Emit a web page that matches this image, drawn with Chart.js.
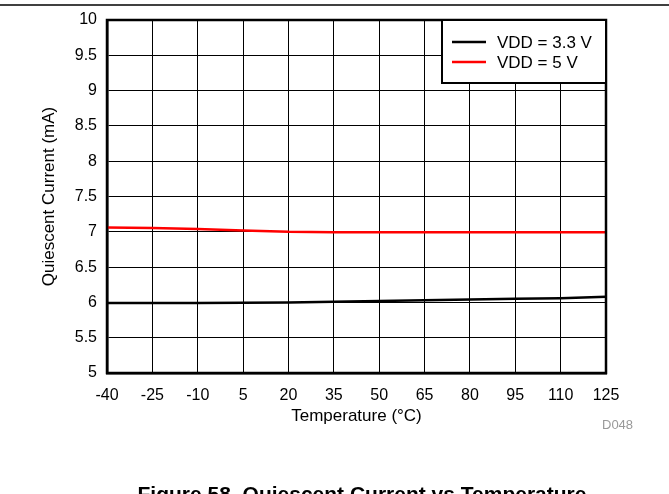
<!DOCTYPE html>
<html>
<head>
<meta charset="utf-8">
<script src="https://cdn.jsdelivr.net/npm/chart.js@4/dist/chart.umd.min.js"></script>
<style>
  html, body { margin: 0; padding: 0; background: #fff; }
  #wrap { width: 669px; height: 494px; }
</style>
</head>
<body>
<div id="wrap"><canvas id="chart" width="669" height="494"></canvas></div>
<script>
const temps = [-40, -25, -10, 5, 20, 35, 50, 65, 80, 95, 110, 125];
const vdd33 = [5.99, 5.99, 5.99, 5.995, 6.0, 6.01, 6.02, 6.03, 6.04, 6.05, 6.06, 6.08];
const vdd5 = [7.06, 7.055, 7.04, 7.02, 7.0, 6.995, 6.993, 6.992, 6.992, 6.992, 6.992, 6.992];
const seriesLabels = ['VDD = 3.3 V', 'VDD = 5 V'];
const seriesColors = ['#000000', '#ff0000'];
const xTicks = [-40, -25, -10, 5, 20, 35, 50, 65, 80, 95, 110, 125];
const yTicks = [5, 5.5, 6, 6.5, 7, 7.5, 8, 8.5, 9, 9.5, 10];

const font = 'Liberation Sans, Arial, sans-serif';

function toPoints(ys) {
  return temps.map((t, i) => ({x: t, y: ys[i]}));
}

// frame, legend box, figure caption, doc id
const extras = {
  id: 'extras',
  afterDraw(chart) {
    const ctx = chart.ctx;
    const a = chart.chartArea;
    ctx.save();
    // rule at the top of the page
    ctx.strokeStyle = '#000';
    ctx.lineWidth = 1.5;
    ctx.beginPath();
    ctx.moveTo(0, 5);
    ctx.lineTo(669, 5);
    ctx.stroke();

    // plot frame
    ctx.lineWidth = 2.5;
    ctx.strokeRect(a.left, a.top, a.right - a.left, a.bottom - a.top);

    // legend
    const lx = 442, ly = a.top, lw = a.right - 442, lh = 63;
    ctx.fillStyle = '#fff';
    ctx.fillRect(lx, ly, lw, lh);
    ctx.lineWidth = 2;
    ctx.strokeRect(lx, ly, lw, lh);
    ctx.font = '17px ' + font;
    ctx.textBaseline = 'middle';
    ctx.textAlign = 'left';
    seriesLabels.forEach((lab, i) => {
      const y = ly + 22 + i * 20;
      ctx.strokeStyle = seriesColors[i];
      ctx.lineWidth = 2.5;
      ctx.beginPath();
      ctx.moveTo(452, y);
      ctx.lineTo(486, y);
      ctx.stroke();
      ctx.fillStyle = '#000';
      ctx.fillText(lab, 497, y + 1);
    });

    // doc id
    ctx.fillStyle = '#999';
    ctx.font = '13px ' + font;
    ctx.textAlign = 'left';
    ctx.fillText('D048', 602, 425);

    // caption
    ctx.fillStyle = '#000';
    ctx.font = 'bold 21px ' + font;
    ctx.textAlign = 'center';
    ctx.textBaseline = 'alphabetic';
    ctx.fillText('Figure 58. Quiescent Current vs Temperature', 362, 501);
    ctx.restore();
  }
};

new Chart(document.getElementById('chart'), {
  type: 'line',
  data: {
    datasets: [
      {label: seriesLabels[0], data: toPoints(vdd33), borderColor: seriesColors[0], borderWidth: 2.5, pointRadius: 0, tension: 0},
      {label: seriesLabels[1], data: toPoints(vdd5), borderColor: seriesColors[1], borderWidth: 2.5, pointRadius: 0, tension: 0}
    ]
  },
  options: {
    responsive: false,
    animation: false,
    layout: {padding: {left: 35, right: 63, top: 20, bottom: 63}},
    plugins: {legend: {display: false}, tooltip: {enabled: false}},
    scales: {
      x: {
        type: 'linear',
        min: xTicks[0],
        max: xTicks[xTicks.length - 1],
        afterBuildTicks: s => { s.ticks = xTicks.map(v => ({value: v})); },
        afterFit: s => { s.height = 58; },
        ticks: {color: '#000', font: {family: font, size: 16}, padding: 13, maxRotation: 0, autoSkip: false,
                callback: v => String(v)},
        grid: {color: '#000', lineWidth: 1, drawTicks: false},
        border: {color: '#000', width: 2.5},
        title: {display: true, text: 'Temperature (°C)', color: '#000', font: {family: font, size: 17}, padding: {top: 0, bottom: 4}}
      },
      y: {
        min: yTicks[0],
        max: yTicks[yTicks.length - 1],
        afterBuildTicks: s => { s.ticks = yTicks.map(v => ({value: v})); },
        afterFit: s => { s.width = 72; },
        ticks: {color: '#000', font: {family: font, size: 16}, padding: 10, autoSkip: false,
                callback: v => String(v)},
        grid: {color: '#000', lineWidth: 1, drawTicks: false},
        border: {color: '#000', width: 2.5},
        title: {display: true, text: 'Quiescent Current (mA)', color: '#000', font: {family: font, size: 17}, padding: {top: 4, bottom: 0}}
      }
    }
  },
  plugins: [extras]
});
</script>
</body>
</html>
